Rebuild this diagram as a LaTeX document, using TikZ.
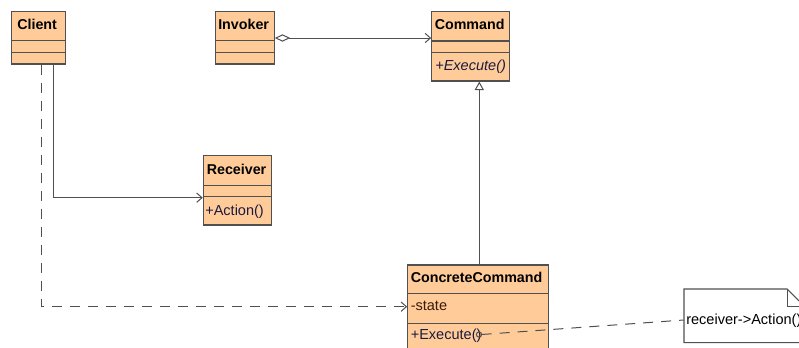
\documentclass[tikz,border=0pt]{standalone}
\usepackage{fontspec}
\setmainfont{Liberation Sans}
\usetikzlibrary{arrows.meta,fit}

\definecolor{classfill}{HTML}{FFCC99}
\definecolor{edge}{HTML}{505050}
\definecolor{attrtext}{HTML}{3A1A08}
\definecolor{optext}{HTML}{1A1A40}

\tikzset{
  classbox/.style={draw=edge, fill=classfill, line width=0.8pt, inner sep=0pt},
  notebox/.style={draw=edge, fill=white, line width=0.8pt},
  divider/.style={draw=edge, line width=0.8pt},
  classname/.style={anchor=base west, inner sep=0pt, font=\fontsize{10.7}{12}\selectfont\bfseries},
  attr/.style={anchor=base west, inner sep=0pt, text=attrtext, font=\fontsize{10.9}{12}\selectfont},
  oper/.style={anchor=base west, inner sep=0pt, text=optext, font=\fontsize{10.9}{12}\selectfont},
  notetext/.style={anchor=base west, inner sep=0pt, font=\fontsize{10.9}{12}\selectfont},
  link/.style={draw=edge, line width=0.75pt},
  assoc/.style={link, -{Straight Barb[length=4pt, width=7pt]}},
  depend/.style={link, dash pattern=on 7.5pt off 6pt, -{Straight Barb[length=4pt, width=7pt]}},
  aggreg/.style={link, {Diamond[open, length=11.5pt, width=5.5pt, fill=white]}-{Straight Barb[length=4pt, width=7pt]}},
  inherit/.style={link, -{Triangle[open, length=6.5pt, width=7pt, fill=white]}},
  anchorline/.style={link, dash pattern=on 7.5pt off 6pt},
}

\begin{document}
\begin{tikzpicture}[x=0.75pt, y=-0.75pt]
  \useasboundingbox (0,0) rectangle (799,347);
  \clip (0,0) rectangle (799,347);

  % Client
  \node[classbox, fit={(11.5,11.5) (65.5,64)}] (client) {};
  \draw[divider] (11.5,40.7) -- (65.5,40.7);
  \draw[divider] (11.5,52.3) -- (65.5,52.3);
  \node[classname] (clientname) at (17,29.3) {Client};

  % Invoker
  \node[classbox, fit={(215.5,11.5) (274.3,64)}] (invoker) {};
  \draw[divider] (215.5,40.7) -- (274.3,40.7);
  \draw[divider] (215.5,52.3) -- (274.3,52.3);
  \node[classname] (invokername) at (218,29.3) {Invoker};

  % Command
  \node[classbox, fit={(431.7,11.3) (509.3,81)}] (command) {};
  \draw[divider] (431.7,41) -- (509.3,41);
  \draw[divider] (431.7,52.3) -- (509.3,52.3);
  \node[classname] (commandname) at (434.5,29.3) {Command};
  \node[oper, font=\fontsize{10.9}{12}\selectfont\itshape] (cmdexec) at (435,70) {+Execute()};

  % Receiver
  \node[classbox, fit={(203.3,155.7) (271.7,225)}] (receiver) {};
  \draw[divider] (203.3,185.7) -- (271.7,185.7);
  \draw[divider] (203.3,196.7) -- (271.7,196.7);
  \node[classname] (receivername) at (206.5,174) {Receiver};
  \node[oper] (recaction) at (205,215) {+Action()};

  % ConcreteCommand
  \node[classbox, fit={(407.7,265) (548.3,362)}] (concrete) {};
  \draw[divider] (407.7,293.3) -- (548.3,293.3);
  \draw[divider] (407.7,323.3) -- (548.3,323.3);
  \node[classname] (concretename) at (410.5,282.3) {ConcreteCommand};
  \node[attr] (state) at (410.5,310) {-state};
  \node[oper] (ccexec) at (410.5,339) {+Execute()};

  % Note attached to ConcreteCommand::Execute
  \node[inner sep=0pt, fit={(684,289) (804,342.7)}] (note) {};
  \path[notebox] (684,289) -- (787,289) -- (804,306) -- (804,342.7) -- (684,342.7) -- cycle;
  \draw[link] (787,289) -- (787,306) -- (804,306);
  \node[notetext] (notetxt) at (686,324) {receiver->Action()};

  % Connectors
  \draw[assoc] (client.south -| 53,0) |- (receiver.west |- 0,197.7);
  \draw[depend] (client.south -| 41.7,0) |- (concrete.west |- 0,306.7);
  \draw[aggreg] (invoker.east |- 0,38) -- (command.west |- 0,38);
  \draw[inherit] (concrete.north -| 479.3,0) -- (command.south -| 479.3,0);

  % Note anchor from the Execute() operation
  \coordinate (execanchor) at (479,334.5);
  \draw[link] (execanchor) circle (2.6);
  \draw[anchorline] (481.6,334.5) -- (note.west |- 0,320);
\end{tikzpicture}
\end{document}
